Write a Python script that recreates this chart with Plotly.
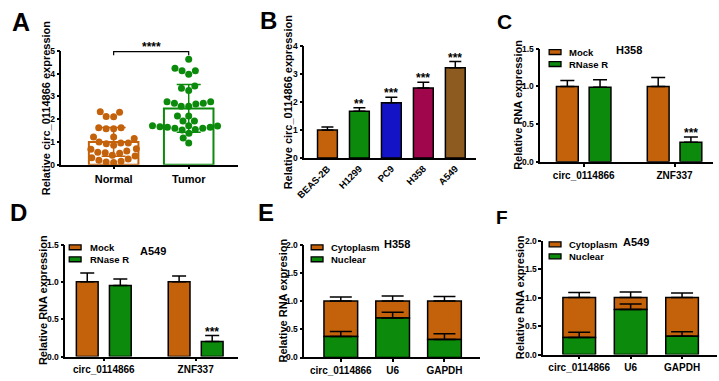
import plotly.graph_objects as go

W, H = 719, 381
FONT = "Liberation Sans, Arial, sans-serif"

ORANGE = "#C4620C"
GREEN = "#0B8A0B"
BLUE = "#1414C6"
CRIMSON = "#A0064B"
BROWN = "#8D5B1F"

# ---------------- data ----------------
# Panel A
groups_A = ["Normal", "Tumor"]
normal_vals = [2.3, 2.12, 2.32, 2.1, 1.62, 1.62, 1.58, 1.58, 1.22, 1.22, 1.15, 1.0,
               0.95, 0.95, 0.92, 0.85, 0.7, 0.68, 0.6, 0.55, 0.52, 0.5, 0.42, 0.38,
               0.3, 0.25, 0.2, 0.15, 0.12, 0.1]
tumor_vals = [4.63, 4.12, 4.12, 4.23, 3.97, 3.26, 3.35, 3.45, 2.76, 2.56, 2.66, 2.56,
              2.76, 2.7, 2.7, 2.14, 2.14, 1.92, 1.92, 1.71, 1.71, 1.6, 1.64, 1.52,
              1.55, 1.67, 1.6, 1.64, 1.7, 1.38, 1.17, 0.95]
mean_A = [1.0, 2.47]
sd_A = [0.63, 1.05]
sig_A = "****"
bracket_A = [4.8, 4.96]

# Panel B
cells_B = ["BEAS-2B", "H1299", "PC9", "H358", "A549"]
vals_B = [1.0, 1.67, 1.97, 2.5, 3.22]
err_B = [0.1, 0.12, 0.2, 0.2, 0.22]
sig_B = ["", "**", "***", "***", "***"]

# Panels C / D (RNase R)
genes_CD = ["circ_0114866", "ZNF337"]
series_CD = ["Mock", "RNase R"]
mock_C = [1.0, 1.0]
mock_C_err = [0.08, 0.12]
rnase_C = [0.99, 0.26]
rnase_C_err = [0.1, 0.07]
sig_C = ["", "***"]
mock_D = [1.0, 1.0]
mock_D_err = [0.12, 0.08]
rnase_D = [0.95, 0.2]
rnase_D_err = [0.09, 0.08]
sig_D = ["", "***"]

# Panels E / F (fractionation)
genes_EF = ["circ_0114866", "U6", "GAPDH"]
series_EF = ["Cytoplasm", "Nuclear"]
total_E = [1.0, 1.0, 1.0]
nuclear_E = [0.37, 0.7, 0.32]
nuclear_E_err = [0.09, 0.1, 0.1]
total_E_err = [0.07, 0.09, 0.08]
total_F = [1.0, 1.0, 1.0]
nuclear_F = [0.3, 0.79, 0.32]
nuclear_F_err = [0.09, 0.1, 0.08]
total_F_err = [0.09, 0.1, 0.08]


def px_x(p):
    return p / W


def px_y(p):
    return 1 - p / H


def swarm_offsets(vals, ux, uy, d):
    pts = []
    out = [0.0] * len(vals)
    for i in sorted(range(len(vals)), key=lambda k: vals[k]):
        y = vals[i] * uy
        iv = []
        for (qx, qy) in pts:
            dy = abs(qy - y)
            if dy < d:
                h = (d * d - dy * dy) ** 0.5
                iv.append((qx - h, qx + h))
        cands = [0.0] + [a for a, b in iv] + [b for a, b in iv]
        cands.sort(key=abs)
        x = 0.0
        for c in cands:
            if all(not (a + 1e-6 < c < b - 1e-6) for a, b in iv):
                x = c
                break
        pts.append((x, y))
        out[i] = x / ux
    return out


fig = go.Figure()

bold = dict(family=FONT, color="black", weight="bold")
STAR = dict(size=12, **bold)
STAR_SHIFT = -5


def err(arr, width, color="black", sym=False):
    e = dict(type="data", array=arr, color=color, thickness=1.5, width=width, visible=True)
    if not sym:
        e["symmetric"] = False
        e["arrayminus"] = [0] * len(arr)
    return e


# ---------- A ----------
for i, (g, col, vals) in enumerate(zip(groups_A, [ORANGE, GREEN], [normal_vals, tumor_vals])):
    fig.add_trace(go.Bar(x=[i], y=[mean_A[i]], width=0.66, offset=-0.33, name=g,
                         marker=dict(color="rgba(255,255,255,0)", line=dict(color=col, width=2)),
                         error_y=err([sd_A[i]], 12, col, sym=True),
                         xaxis="x", yaxis="y", showlegend=False))
    offs = swarm_offsets(vals, 76, 23.4, 7.6)
    fig.add_trace(go.Scatter(x=[i + o for o in offs], y=vals, mode="markers", name=g,
                             marker=dict(color=col, size=7), xaxis="x", yaxis="y",
                             showlegend=False, cliponaxis=False))

fig.add_shape(type="path", xref="x", yref="y",
              path=f"M 0,{bracket_A[0]} L 0,{bracket_A[1]} L 1,{bracket_A[1]} L 1,{bracket_A[0]}",
              line=dict(color="black", width=1.2))
fig.add_annotation(x=0.5, y=bracket_A[1], xref="x", yref="y", text=sig_A, showarrow=False,
                   yanchor="bottom", yshift=STAR_SHIFT + 1, font=STAR)

# ---------- B ----------
fig.add_trace(go.Bar(x=cells_B, y=vals_B, width=0.62, offset=-0.31,
                     marker=dict(color=[ORANGE, GREEN, BLUE, CRIMSON, BROWN],
                                 line=dict(color="black", width=1.5)),
                     error_y=err(err_B, 6), xaxis="x2", yaxis="y2", showlegend=False))
for c, v, e, s in zip(cells_B, vals_B, err_B, sig_B):
    if s:
        fig.add_annotation(x=c, y=v + e, xref="x2", yref="y2", text=s, showarrow=False,
                           yanchor="bottom", yshift=STAR_SHIFT, font=STAR)


# ---------- C / D ----------
def rnase_panel(xa, ya, mock, mock_err, rn, rn_err, sig, w):
    fig.add_trace(go.Bar(x=genes_CD, y=mock, width=w, offset=-0.18 - w / 2, name=series_CD[0],
                         marker=dict(color=ORANGE, line=dict(color="black", width=1.5)),
                         error_y=err(mock_err, 7), xaxis=xa, yaxis=ya, showlegend=False))
    fig.add_trace(go.Bar(x=genes_CD, y=rn, width=w, offset=0.18 - w / 2, name=series_CD[1],
                         marker=dict(color=GREEN, line=dict(color="black", width=1.5)),
                         error_y=err(rn_err, 7), xaxis=xa, yaxis=ya, showlegend=False))
    for g, v, e, s in zip(genes_CD, rn, rn_err, sig):
        if s:
            fig.add_annotation(x=g, y=v + e, xref=xa, yref=ya, text=s, showarrow=False,
                               xshift=0.18 * 92, yanchor="bottom", yshift=STAR_SHIFT,
                               font=STAR)


rnase_panel("x3", "y3", mock_C, mock_C_err, rnase_C, rnase_C_err, sig_C, 0.24)
rnase_panel("x4", "y4", mock_D, mock_D_err, rnase_D, rnase_D_err, sig_D, 0.237)


# ---------- E / F ----------
def frac_panel(xa, ya, total, nuc, nuc_err, tot_err, w):
    cyto = [t - n for t, n in zip(total, nuc)]
    fig.add_trace(go.Bar(x=genes_EF, y=cyto, base=nuc, width=w, offset=-w / 2, name=series_EF[0],
                         marker=dict(color=ORANGE, line=dict(color="black", width=1.5)),
                         error_y=err(tot_err, 11), xaxis=xa, yaxis=ya, showlegend=False))
    fig.add_trace(go.Bar(x=genes_EF, y=nuc, width=w, offset=-w / 2, name=series_EF[1],
                         marker=dict(color=GREEN, line=dict(color="black", width=1.5)),
                         error_y=err(nuc_err, 11), xaxis=xa, yaxis=ya, showlegend=False))


frac_panel("x5", "y5", total_E, nuclear_E, nuclear_E_err, total_E_err, 0.65)
frac_panel("x6", "y6", total_F, nuclear_F, nuclear_F_err, total_F_err, 0.635)

# ---------- axes ----------
axis_common = dict(showline=True, linecolor="black", linewidth=1.5, ticks="outside",
                   ticklen=3, tickwidth=1.5, tickcolor="black", showgrid=False,
                   zeroline=False, fixedrange=True)

panels = {
    "1": ((53, 232), (47, 164), [-0.697, 1.658], [0, 5], 1, ""),
    "2": ((299, 473), (42, 157), [-0.725, 4.65], [0, 4], 1, ""),
    "3": ((538, 713), (45, 161), [-0.478, 1.424], [0, 1.5], 0.5, ".1f"),
    "4": ((57, 232), (246, 361), [-0.419, 1.462], [0, 1.5], 0.5, ".1f"),
    "5": ((299, 477), (246, 362), [-0.705, 2.686], [0, 2], 0.5, ".1f"),
    "6": ((541, 717), (242, 359), [-0.70, 2.68], [0, 2], 0.5, ".1f"),
}
layout = dict(width=W, height=H, margin=dict(l=0, r=0, t=0, b=0),
              paper_bgcolor="white", plot_bgcolor="white", showlegend=False)
for k, (xp, yp, xr, yr, dt, fmt) in panels.items():
    xn = "xaxis" if k == "1" else "xaxis" + k
    yn = "yaxis" if k == "1" else "yaxis" + k
    xid = "x" if k == "1" else "x" + k
    yid = "y" if k == "1" else "y" + k
    xa = dict(axis_common, domain=[px_x(xp[0]), px_x(xp[1])], range=xr, anchor=yid,
              tickfont=dict(size=10, **bold))
    if k != "1":
        xa["type"] = "category"
    ya = dict(axis_common, domain=[px_y(yp[1]), px_y(yp[0])], range=yr, anchor=xid,
              dtick=dt, tick0=0, tickformat=fmt, tickfont=dict(size=8.5, **bold))
    layout[xn] = xa
    layout[yn] = ya

layout["xaxis"].update(tickmode="array", tickvals=[0, 1], ticktext=groups_A,
                       tickfont=dict(size=11, **bold))
layout["xaxis2"].update(tickangle=-45, tickfont=dict(size=9.5, **bold), ticks="")

fig.update_layout(**layout)

# legends: (box left px, text left px, centre y px of the two-line block, labels)
LEG_FS = 9.5
LINE = LEG_FS * 1.3
legends = [
    (547, 565, 54.5, series_CD),
    (61, 80, 255, series_CD),
    (306, 324, 255, series_EF),
    (547, 565, 252, series_EF),
]
for bx, tx, cy, labels in legends:
    for j, col in enumerate([ORANGE, GREEN]):
        yc = cy + (j - 0.5) * LINE
        fig.add_shape(type="rect", xref="paper", yref="paper",
                      x0=px_x(bx), x1=px_x(bx + 12), y0=px_y(yc + 2.5), y1=px_y(yc - 2.5),
                      fillcolor=col, line=dict(color="black", width=1.3))
    fig.add_annotation(text="<br>".join(labels), x=px_x(tx), y=px_y(cy), xref="paper",
                       yref="paper", showarrow=False, xanchor="left", yanchor="middle",
                       align="left", font=dict(size=LEG_FS, **bold))

# y-axis titles
ytitles = [
    ("Relative circ_0114866 expression", 37, 105.5),
    ("Relative circ_0114866 expression", 282, 99.5),
    ("Relative RNA expression", 516, 103),
    ("Relative RNA expression", 34, 303.5),
    ("Relative RNA expresion", 277, 304),
    ("Relative RNA expresion", 517, 300.5),
]
for t, x, y in ytitles:
    fig.add_annotation(text=t, x=px_x(x), y=px_y(y), xref="paper", yref="paper",
                       textangle=-90, showarrow=False, xanchor="center", yanchor="middle",
                       font=dict(size=11, **bold))

# cell line labels
for t, x, y in [("H358", 628, 46), ("A549", 146, 253), ("H358", 393, 245.5), ("A549", 634.5, 243.5)]:
    fig.add_annotation(text=t, x=px_x(x), y=px_y(y), xref="paper", yref="paper",
                       showarrow=False, xanchor="center", yanchor="middle",
                       font=dict(size=11, **bold))

# panel letters
for t, x, y, s in [("A", 12, 17, 25), ("B", 263, 16, 24), ("C", 502, 17, 21),
                   ("D", 10, 213, 24), ("E", 260, 213, 24), ("F", 499, 218, 19)]:
    fig.add_annotation(text=t, x=px_x(x), y=px_y(y), xref="paper", yref="paper",
                       showarrow=False, xanchor="center", yanchor="middle",
                       font=dict(size=s, **bold))

fig.write_html("out.html", config={"displayModeBar": False},
               post_script="document.body.style.margin='0px';")
